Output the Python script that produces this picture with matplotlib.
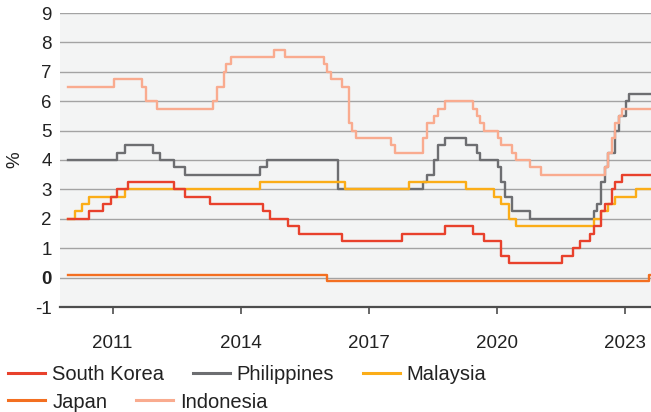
import matplotlib
matplotlib.use("Agg")
import matplotlib.pyplot as plt
import pandas as pd

# policy rates, % -- (date of change, new level)
korea_dates = ["2010-01", "2010-07", "2010-11", "2011-01", "2011-03", "2011-06", "2012-07", "2012-10",
               "2013-05", "2014-08", "2014-10", "2015-03", "2015-06", "2016-06", "2017-11", "2018-11",
               "2019-07", "2019-10", "2020-03", "2020-05", "2021-08", "2021-11", "2022-01", "2022-04",
               "2022-05", "2022-07", "2022-08", "2022-10", "2022-11", "2023-01", "2023-10"]
korea_rates = [2.0, 2.25, 2.5, 2.75, 3.0, 3.25, 3.0, 2.75,
               2.5, 2.25, 2.0, 1.75, 1.5, 1.25, 1.5, 1.75,
               1.5, 1.25, 0.75, 0.5, 0.75, 1.0, 1.25, 1.5,
               1.75, 2.25, 2.5, 3.0, 3.25, 3.5, 3.5]

phil_dates = ["2010-01", "2011-03", "2011-05", "2012-01", "2012-03", "2012-07", "2012-10", "2014-07",
              "2014-09", "2016-05", "2018-05", "2018-06", "2018-08", "2018-09", "2018-11", "2019-05",
              "2019-08", "2019-09", "2020-02", "2020-03", "2020-04", "2020-06", "2020-11", "2022-05",
              "2022-06", "2022-07", "2022-08", "2022-09", "2022-11", "2022-12", "2023-02", "2023-03",
              "2023-10"]
phil_rates = [4.0, 4.25, 4.5, 4.25, 4.0, 3.75, 3.5, 3.75,
              4.0, 3.0, 3.25, 3.5, 4.0, 4.5, 4.75, 4.5,
              4.25, 4.0, 3.75, 3.25, 2.75, 2.25, 2.0, 2.25,
              2.5, 3.25, 3.75, 4.25, 5.0, 5.5, 6.0, 6.25,
              6.25]

malay_dates = ["2010-01", "2010-03", "2010-05", "2010-07", "2011-05", "2014-07", "2016-07", "2018-01",
               "2019-05", "2020-01", "2020-03", "2020-05", "2020-07", "2022-05", "2022-07", "2022-09",
               "2022-11", "2023-05", "2023-10"]
malay_rates = [2.0, 2.25, 2.5, 2.75, 3.0, 3.25, 3.0, 3.25,
               3.0, 2.75, 2.5, 2.0, 1.75, 2.0, 2.25, 2.5,
               2.75, 3.0, 3.0]

japan_dates = ["2010-01", "2016-02", "2023-08-15", "2023-10"]
japan_rates = [0.1, -0.1, 0.1, 0.1]

indo_dates = ["2010-01", "2011-02", "2011-10", "2011-11", "2012-02", "2013-06", "2013-07", "2013-08-29",
              "2013-09-12", "2013-11", "2014-11", "2015-02", "2016-01", "2016-02", "2016-03", "2016-06",
              "2016-08", "2016-09", "2016-10", "2017-08", "2017-09", "2018-05", "2018-06", "2018-08",
              "2018-09", "2018-11", "2019-07", "2019-08", "2019-09", "2019-10", "2020-02", "2020-03",
              "2020-06", "2020-07", "2020-11", "2021-02", "2022-08", "2022-09", "2022-10", "2022-11",
              "2022-12", "2023-01", "2023-10"]
indo_rates = [6.5, 6.75, 6.5, 6.0, 5.75, 6.0, 6.5, 7.0,
              7.25, 7.5, 7.75, 7.5, 7.25, 7.0, 6.75, 6.5,
              5.25, 5.0, 4.75, 4.5, 4.25, 4.75, 5.25, 5.5,
              5.75, 6.0, 5.75, 5.5, 5.25, 5.0, 4.75, 4.5,
              4.25, 4.0, 3.75, 3.5, 3.75, 4.25, 4.75, 5.25,
              5.5, 5.75, 5.75]

year_ticks = [2011, 2014, 2017, 2020, 2023]
y_ticks = [-1, 0, 1, 2, 3, 4, 5, 6, 7, 8, 9]


def to_year(dates):
    d = pd.to_datetime(dates, format="mixed")
    return d.year + (d.dayofyear - 1) / 365.25


series = [
    ("Philippines", phil_dates, phil_rates, "#6d6e71"),
    ("Indonesia", indo_dates, indo_rates, "#f9ab8f"),
    ("Malaysia", malay_dates, malay_rates, "#fbad18"),
    ("South Korea", korea_dates, korea_rates, "#e8412c"),
    ("Japan", japan_dates, japan_rates, "#f36f21"),
]

plt.rcParams["font.family"] = ["Liberation Sans", "DejaVu Sans"]
fig = plt.figure(figsize=(6.51, 4.12), dpi=100)
ax = fig.add_axes([60 / 651, 105 / 412, 1 - 60 / 651, 294 / 412])
ax.set_facecolor("#f3f4f4")

lines = {}
for name, dates, rates, color in series:
    ln, = ax.plot(to_year(dates), rates, drawstyle="steps-post", color=color, lw=1.7, label=name)
    lines[name] = ln

ax.set_xlim(2009.815, 2023.67)
ax.set_ylim(-1, 9)
ax.set_yticks(y_ticks)
ax.set_yticklabels([str(v) for v in y_ticks])
for lab in ax.get_yticklabels():
    if lab.get_text() == "0":
        lab.set_fontweight("bold")
ax.set_xticks([y + 0.05 for y in year_ticks])
ax.set_xticklabels([str(y) for y in year_ticks])

ax.grid(axis="y", color="#a3a3a3", lw=1)
ax.set_axisbelow(True)
for s in ["top", "right", "left"]:
    ax.spines[s].set_visible(False)
ax.spines["bottom"].set_color("#4d4d4d")
ax.spines["bottom"].set_linewidth(1.6)
ax.tick_params(axis="y", length=0, pad=6, labelsize=13.5, colors="#222222")
ax.tick_params(axis="x", length=5, width=1.2, color="#4d4d4d", pad=15, labelsize=13.5, labelcolor="#222222")
ax.set_ylabel("%", fontsize=13.5, color="#222222", labelpad=8)

leg_kw = dict(frameon=False, fontsize=14.5, handlelength=1.85, handletextpad=0.35,
              columnspacing=1.4, borderpad=0, borderaxespad=0, loc="center left")
leg1 = fig.legend([lines[n] for n in ["South Korea", "Philippines", "Malaysia"]],
                  ["South Korea", "Philippines", "Malaysia"], ncol=3,
                  bbox_to_anchor=(8 / 651, 1 - 375 / 412), **leg_kw)
leg2 = fig.legend([lines[n] for n in ["Japan", "Indonesia"]], ["Japan", "Indonesia"], ncol=2,
                  bbox_to_anchor=(8 / 651, 1 - 402 / 412), **leg_kw)
for leg in (leg1, leg2):
    for h in leg.get_lines():
        h.set_linewidth(2.2)
    for t in leg.get_texts():
        t.set_color("#222222")

fig.savefig("out.png", dpi=100)
